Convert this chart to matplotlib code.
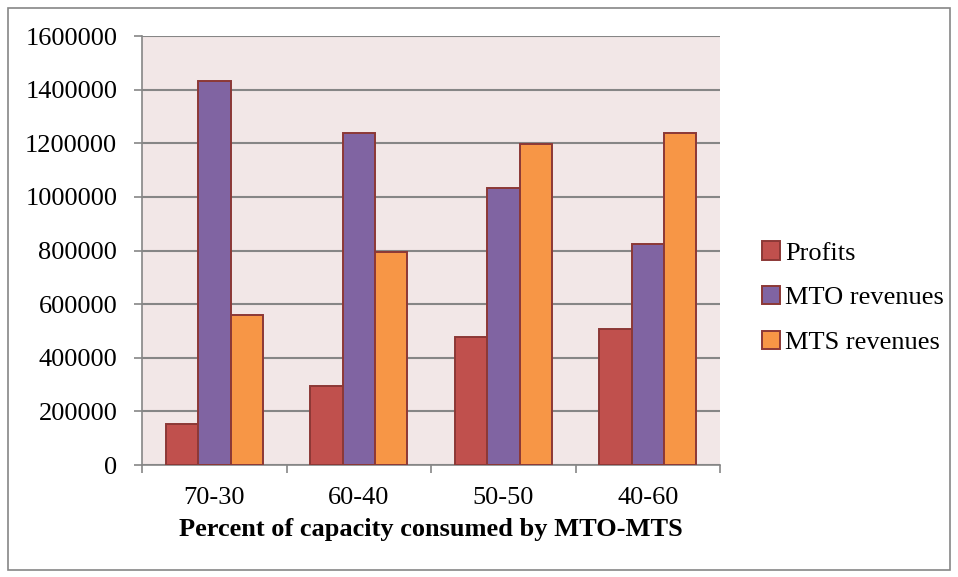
import matplotlib.pyplot as plt
import numpy as np
from matplotlib.patches import Rectangle

categories = ["70-30", "60-40", "50-50", "40-60"]
profits = [154000, 294000, 478000, 508000]
mto_revenues = [1433000, 1240000, 1033000, 826000]
mts_revenues = [559000, 794000, 1196000, 1238000]
series_names = ["Profits", "MTO revenues", "MTS revenues"]
yticks = [0, 200000, 400000, 600000, 800000, 1000000, 1200000, 1400000, 1600000]

plt.rcParams['font.family'] = ['Liberation Serif', 'DejaVu Serif']

fig = plt.figure(figsize=(9.58, 5.77), dpi=100)
ax = fig.add_axes([0.1485, 0.194, 0.6031, 0.7436])

# outer chart border
fig.patches.append(Rectangle((8 / 958, 7 / 577), 942 / 958, 562 / 577,
                             transform=fig.transFigure, fill=False,
                             edgecolor='#868686', linewidth=1.2))

x = np.arange(len(categories))
w = 0.224
colors = ['#C0504D', '#8064A2', '#F79646']
edge = '#8C3836'
for i, (vals, name) in enumerate(zip([profits, mto_revenues, mts_revenues], series_names)):
    ax.bar(x + (i - 1) * w, vals, w, color=colors[i], edgecolor=edge,
           linewidth=1.4, label=name, zorder=3)

ax.set_facecolor('#F2E7E7')
ax.set_xlim(-0.5, 3.5)
ax.set_ylim(0, 1600000)
ax.set_yticks(yticks)
ax.set_yticklabels([str(v) for v in yticks])
ax.grid(axis='y', color='#868686', linewidth=1.5, zorder=1)

ax.set_xticks(x)
ax.set_xticklabels(categories)
ax.set_xticks(np.arange(-0.5, 4.0, 1.0), minor=True)
ax.tick_params(axis='x', which='major', length=0, pad=16, labelsize=19)
ax.tick_params(axis='x', which='minor', length=6, color='#868686', width=1.2)
ax.tick_params(axis='y', length=6, color='#868686', width=1.2, labelsize=19, pad=12)

for s in ['top', 'right']:
    ax.spines[s].set_visible(False)
for s in ['left', 'bottom']:
    ax.spines[s].set_color('#868686')
    ax.spines[s].set_linewidth(1.2)

ax.set_xlabel("Percent of capacity consumed by MTO-MTS", fontsize=19,
              fontweight='bold', labelpad=6)

ax.legend(loc='center left', bbox_to_anchor=(1.031, 0.39), frameon=False,
          fontsize=19, handlelength=0.7, handleheight=0.7, handletextpad=0.2,
          labelspacing=0.8)

fig.savefig("out.png", dpi=100)
